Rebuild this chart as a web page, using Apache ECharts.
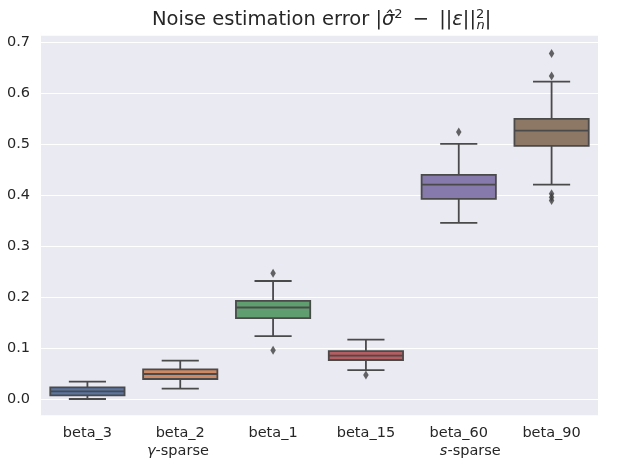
<!DOCTYPE html>
<html>
<head>
<meta charset="utf-8">
<script src="https://cdn.jsdelivr.net/npm/echarts@6/dist/echarts.min.js"></script>
<style>html,body{margin:0;padding:0;background:#fff}#c{width:620px;height:465px}</style>
</head>
<body>
<div id="c"></div>
<script>
const categories = ['beta_3', 'beta_2', 'beta_1', 'beta_15', 'beta_60', 'beta_90'];
const lowWhisker  = [0.0006, 0.0208, 0.124, 0.057, 0.346, 0.421];
const q1Values    = [0.0078, 0.0398, 0.159, 0.077, 0.393, 0.497];
const medianValues= [0.0157, 0.0496, 0.180, 0.0857, 0.421, 0.527];
const q3Values    = [0.0235, 0.0588, 0.193, 0.0945, 0.440, 0.550];
const highWhisker = [0.0345, 0.0757, 0.232, 0.117, 0.501, 0.623];
const outliers = [[2, 0.247], [2, 0.096], [3, 0.0476], [4, 0.524], [5, 0.678], [5, 0.634], [5, 0.403], [5, 0.396], [5, 0.390]];
const yTicks = [0, 0.1, 0.2, 0.3, 0.4, 0.5, 0.6, 0.7];
const subLabels = {beta_2: '{it|γ}-sparse ', beta_60: '     {it|s}-sparse'};

const boxColors = ['#5875a4', '#cc8963', '#5f9e6e', '#b55d60', '#857aab', '#8d7866'];
const edge = '#4a4a4a';
const FONT = 'DejaVu Sans';

const boxData = categories.map((c, i) => [i, lowWhisker[i], q1Values[i], medianValues[i], q3Values[i], highWhisker[i]]);

function renderBox(params, api) {
  const i = api.value(0);
  const lo = api.coord([i, api.value(1)]);
  const q1 = api.coord([i, api.value(2)]);
  const md = api.coord([i, api.value(3)]);
  const q3 = api.coord([i, api.value(4)]);
  const hi = api.coord([i, api.value(5)]);
  const band = api.size([1, 0])[0];
  const bw = band * 0.8, cw = bw / 2, cx = lo[0];
  const ls = {stroke: edge, lineWidth: 1.8, fill: null};
  return {
    type: 'group',
    children: [
      {type: 'line', shape: {x1: cx, y1: hi[1], x2: cx, y2: q3[1]}, style: ls},
      {type: 'line', shape: {x1: cx, y1: q1[1], x2: cx, y2: lo[1]}, style: ls},
      {type: 'line', shape: {x1: cx - cw / 2, y1: hi[1], x2: cx + cw / 2, y2: hi[1]}, style: ls},
      {type: 'line', shape: {x1: cx - cw / 2, y1: lo[1], x2: cx + cw / 2, y2: lo[1]}, style: ls},
      {type: 'rect', shape: {x: cx - bw / 2, y: q3[1], width: bw, height: q1[1] - q3[1]},
        style: {fill: boxColors[i], stroke: edge, lineWidth: 1.8}},
      {type: 'line', shape: {x1: cx - bw / 2, y1: md[1], x2: cx + bw / 2, y2: md[1]}, style: ls}
    ]
  };
}

const chart = echarts.init(document.getElementById('c'));
chart.setOption({
  backgroundColor: '#ffffff',
  animation: false,
  title: {
    left: 147,
    top: 3,
    padding: 5,
    text: 'Noise estimation error |{it|σ̂}{sup|2}\u2009 − \u2009||{it|ε}||{supz|2}{sub|n}|',
    textStyle: {
      fontFamily: FONT, fontSize: 19.5, fontWeight: 'normal', color: '#262626',
      rich: {
        it: {fontFamily: FONT, fontSize: 19.5, fontStyle: 'italic', color: '#262626'},
        sup: {fontFamily: FONT, fontSize: 13, color: '#262626', verticalAlign: 'top', padding: [0, 0, 9, 0]},
        supz: {fontFamily: FONT, fontSize: 13, color: '#262626', verticalAlign: 'top', padding: [0, 0, 11, 0], width: 0.5, align: 'left'},
        sub: {fontFamily: FONT, fontSize: 13, fontStyle: 'italic', color: '#262626', verticalAlign: 'bottom', padding: [11, 0, 0, 0]}
      }
    }
  },
  grid: {left: 41, right: 22, top: 35.7, bottom: 49.7, backgroundColor: '#eaeaf2', show: true, borderWidth: 0},
  xAxis: {
    type: 'category',
    data: categories,
    boundaryGap: true,
    axisLine: {show: false},
    axisTick: {show: false},
    splitLine: {show: false},
    axisLabel: {
      interval: 0,
      margin: 9,
      align: 'center',
      fontFamily: FONT, fontSize: 14.5, color: '#262626', lineHeight: 18,
      formatter: v => subLabels[v] ? v + '\n' + subLabels[v] : v,
      rich: {it: {fontFamily: FONT, fontSize: 14.5, fontStyle: 'italic', color: '#262626', lineHeight: 18}}
    }
  },
  yAxis: {
    type: 'value',
    min: -0.0314,
    max: 0.713,
    axisLine: {show: false},
    axisTick: {show: false, customValues: yTicks},
    splitLine: {show: true, lineStyle: {color: '#ffffff', width: 1.2}},
    axisLabel: {
      customValues: yTicks,
      margin: 11,
      fontFamily: FONT, fontSize: 14.5, color: '#262626',
      formatter: v => v.toFixed(1)
    }
  },
  series: [
    {
      type: 'custom',
      renderItem: renderBox,
      data: boxData,
      encode: {x: 0, y: [1, 2, 3, 4, 5]},
      z: 2
    },
    {
      type: 'scatter',
      data: outliers,
      symbol: 'path://M0,-1L0.55,0L0,1L-0.55,0Z',
      symbolSize: [5.5, 9],
      itemStyle: {color: '#3f3f3f'},
      z: 3
    }
  ]
});
</script>
</body>
</html>
